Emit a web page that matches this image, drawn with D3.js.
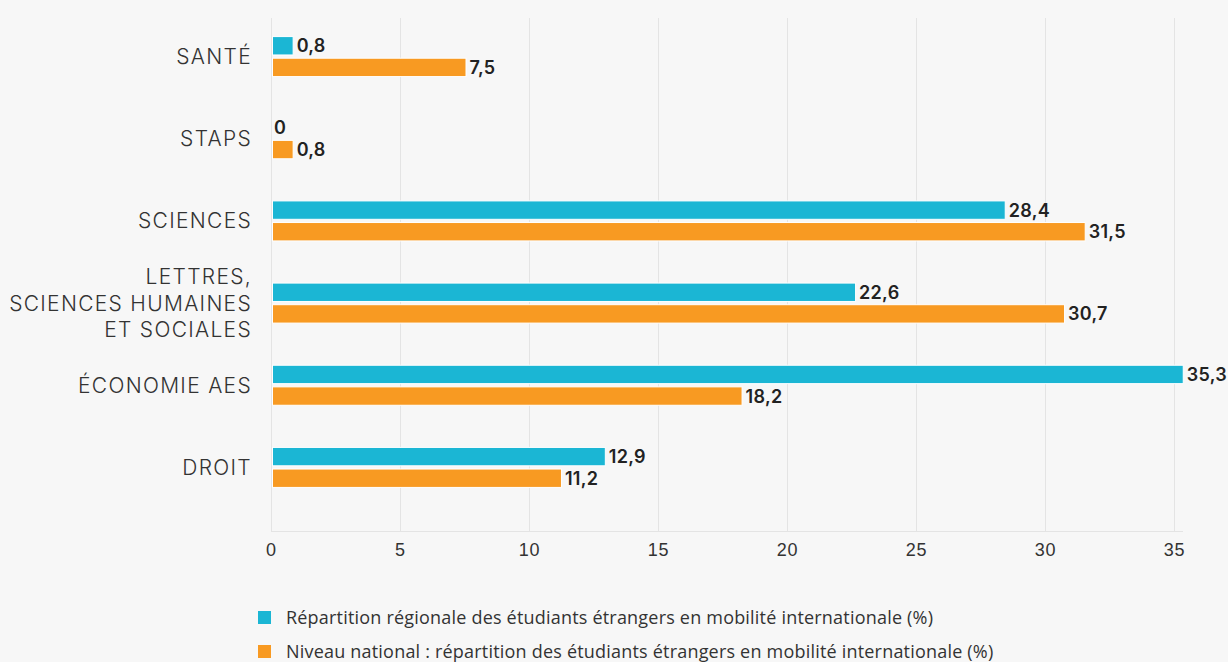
<!DOCTYPE html>
<html>
<head>
<meta charset="utf-8">
<script src="https://cdn.jsdelivr.net/npm/d3@7"></script>
<style>
  body { margin: 0; background: #f7f7f7; }
  svg { display: block; font-family: "Inter", "Noto Sans", sans-serif; }
</style>
</head>
<body>
<div id="chart"></div>
<script>
// data
var categories = ["SANTÉ", "STAPS", "SCIENCES", "LETTRES,\nSCIENCES HUMAINES\nET SOCIALES", "ÉCONOMIE AES", "DROIT"];
var regional = [0.8, 0, 28.4, 22.6, 35.3, 12.9];
var national = [7.5, 0.8, 31.5, 30.7, 18.2, 11.2];
var xTicks = [0, 5, 10, 15, 20, 25, 30, 35];
var seriesNames = [
  "Répartition régionale des étudiants étrangers en mobilité internationale (%)",
  "Niveau national : répartition des étudiants étrangers en mobilité internationale (%)"
];
var seriesColors = ["#1bb6d4", "#f89a22"];

var width = 1228, height = 662;
var plotTop = 18, plotBottom = 531;

var svg = d3.select("#chart").append("svg")
  .attr("width", width)
  .attr("height", height);

var x = d3.scaleLinear().domain([0, 35]).range([271, 1174]);
var y = d3.scaleBand().domain(categories).range([15.5, 508.5]);
var ySub = d3.scaleBand().domain([0, 1]).range([-20, 20]).paddingInner(0.15);

// grid
svg.append("g")
  .selectAll("line")
  .data(xTicks)
  .enter().append("line")
    .attr("x1", d => x(d) + 0.5).attr("x2", d => x(d) + 0.5)
    .attr("y1", plotTop).attr("y2", plotBottom)
    .attr("stroke", "#e4e4e4");

svg.append("line")
  .attr("x1", x(0)).attr("x2", 1183)
  .attr("y1", plotBottom + 0.5).attr("y2", plotBottom + 0.5)
  .attr("stroke", "#e4e4e4");

// x axis labels
var xAxis = g => g
  .attr("transform", `translate(0,${plotBottom})`)
  .call(d3.axisBottom(x).tickValues(xTicks).tickSize(0).tickPadding(12))
  .call(g => g.select(".domain").remove())
  .call(g => g.selectAll("text")
    .attr("fill", "#333")
    .style("font-size", "18px")
    .style("letter-spacing", "0.8px")
    .style("font-weight", "400"));
svg.append("g").call(xAxis);

// category labels
var catLabels = svg.append("g")
  .selectAll("text")
  .data(categories)
  .enter().append("text")
    .attr("x", 252)
    .attr("y", d => y(d) + y.bandwidth() / 2)
    .attr("text-anchor", "end")
    .attr("fill", "#333")
    .style("font-size", "21px")
    .style("letter-spacing", "1.3px")
    .style("font-weight", "300");

catLabels.each(function(d) {
  var lines = d.split("\n");
  var t = d3.select(this);
  lines.forEach(function(line, i) {
    t.append("tspan")
      .attr("x", 252)
      .attr("dy", i == 0 ? ((-(lines.length - 1) / 2) * 26.5 + 7.5) + "px" : "26.5px")
      .text(line);
  });
});

// bars
var rows = categories.map((c, i) => ({ cat: c, values: [regional[i], national[i]] }));

var groups = svg.append("g")
  .selectAll("g")
  .data(rows)
  .enter().append("g")
    .attr("transform", d => `translate(0,${y(d.cat) + y.bandwidth() / 2})`);

groups.selectAll("rect")
  .data(d => d.values.map((v, s) => ({ v: v, s: s })))
  .enter().append("rect")
    .attr("x", x(0) + 1.5)
    .attr("y", d => ySub(d.s))
    .attr("width", d => Math.max(0, x(d.v) - x(0)))
    .attr("height", ySub.bandwidth())
    .attr("fill", d => seriesColors[d.s])
    .attr("stroke", d => d.v > 0 ? "#fff" : "none")
    .attr("stroke-width", 1);

groups.selectAll("text")
  .data(d => d.values.map((v, s) => ({ v: v, s: s })))
  .enter().append("text")
    .attr("x", d => x(d.v) + (d.v > 0 ? 5 : 3))
    .attr("y", d => ySub(d.s) + ySub.bandwidth() / 2 + 6.5)
    .attr("fill", "#222")
    .style("font-size", "18px")
    .style("letter-spacing", "0.3px")
    .style("font-weight", "600")
    .text(d => String(d.v).replace(".", ","));

// legend
var legend = svg.append("g")
  .selectAll("g")
  .data(seriesNames)
  .enter().append("g")
    .attr("transform", (d, i) => `translate(258,${611 + i * 34})`);

legend.append("rect")
  .attr("width", 13).attr("height", 13)
  .attr("fill", (d, i) => seriesColors[i]);

legend.append("text")
  .attr("x", 28)
  .attr("y", 13)
  .attr("fill", "#333")
  .style("font-size", "18px")
  .style("letter-spacing", "0.2px")
  .style("font-family", "'Open Sans', sans-serif")
  .text(d => d);
</script>
</body>
</html>
